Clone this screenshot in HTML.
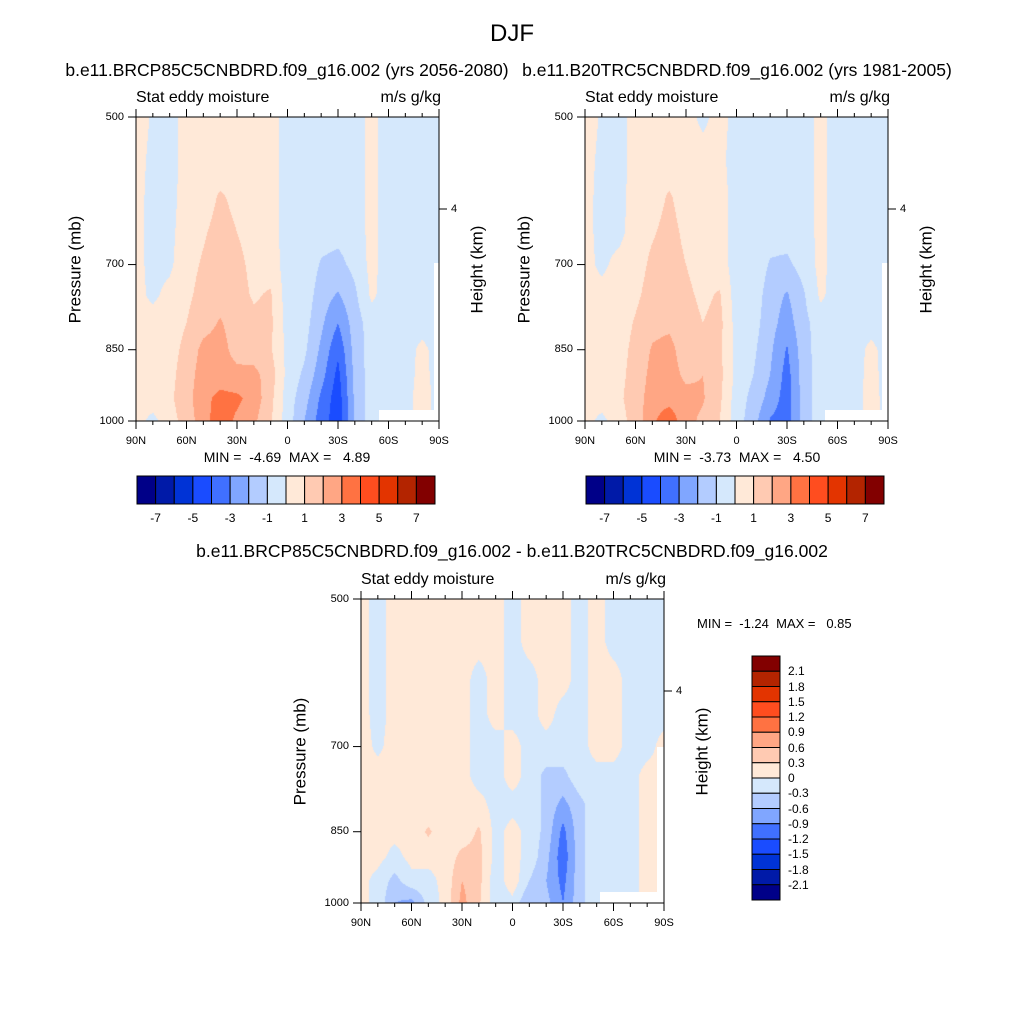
<!DOCTYPE html>
<html><head><meta charset="utf-8"><style>
body{margin:0;background:#fff;}
#root{position:relative;width:1024px;height:1024px;overflow:hidden;font-family:"Liberation Sans",sans-serif;color:#000;}
.t{position:absolute;white-space:pre;line-height:1;}
canvas{position:absolute;}
svg{position:absolute;left:0;top:0;}
</style></head><body>
<div id="root">
<div class="t" style="left:0;width:1024px;text-align:center;top:22px;font-size:24px;">DJF</div>
<div class="t" style="left:-13px;width:600px;text-align:center;top:62px;font-size:17.5px;">b.e11.BRCP85C5CNBDRD.f09_g16.002 (yrs 2056-2080)</div>
<div class="t" style="left:437px;width:600px;text-align:center;top:62px;font-size:17.5px;">b.e11.B20TRC5CNBDRD.f09_g16.002 (yrs 1981-2005)</div>
<div class="t" style="left:112px;width:800px;text-align:center;top:543px;font-size:17.5px;">b.e11.BRCP85C5CNBDRD.f09_g16.002 - b.e11.B20TRC5CNBDRD.f09_g16.002</div>
<div class="t" style="left:697px;top:617px;font-size:13px;">MIN =  -1.24  MAX =   0.85</div>
<svg id="ax" width="1024" height="1024"></svg>
</div>
<script>
const lats=[90,80,70,60,50,40,30,20,10,0,-10,-20,-30,-40,-50,-60,-70,-80,-90];
const levels=[500,550,600,650,700,750,800,850,900,950,1000];
const p1=[
[0.4,-0.1,-0.5,0.5,0.5,0.5,0.5,0.5,0.5,-0.5,-0.5,-0.5,-0.5,-0.5,0.3,-0.5,-0.5,-0.5,-0.5],
[0.3,-0.2,-0.5,0.5,0.5,0.5,0.5,0.5,0.5,-0.5,-0.5,-0.5,-0.5,-0.5,0.3,-0.5,-0.5,-0.5,-0.5],
[0.3,-0.3,-0.4,0.5,0.6,1.1,0.8,0.5,0.5,-0.5,-0.5,-0.5,-0.5,-0.5,0.3,-0.5,-0.5,-0.5,-0.5],
[0.3,-0.3,-0.3,0.6,0.9,1.3,1.0,0.7,0.5,-0.5,-0.3,-0.6,-0.7,-0.5,0.3,-0.5,-0.5,-0.5,-0.5],
[0.3,-0.3,-0.2,0.7,1.1,1.5,1.2,0.8,0.6,-0.5,-0.3,-1.1,-1.3,-0.7,0.3,-0.5,-0.5,-0.5,-0.5],
[0.3,-0.2,0.3,0.8,1.3,1.6,1.3,0.9,1.1,-0.5,-0.4,-1.5,-2.1,-1.2,0.2,-0.5,-0.5,-0.5,-0.5],
[0.3,0.4,0.5,1.0,1.6,2.1,1.5,1.2,1.2,-0.4,-0.6,-1.8,-3.0,-1.5,-0.5,-0.5,-0.5,-0.5,-0.5],
[0.3,0.5,0.6,1.3,2.3,2.4,1.6,1.5,1.1,-0.3,-0.8,-2.2,-3.8,-1.6,-0.5,-0.5,-0.5,0.3,-0.5],
[0.4,0.5,0.7,1.5,2.5,2.5,2.3,2.3,1.5,-0.3,-1.2,-2.6,-4.3,-1.7,-0.5,-0.5,-0.5,0.4,-0.5],
[0.4,0.5,0.8,1.6,2.7,3.3,3.2,2.6,1.3,-0.5,-1.6,-3.2,-4.6,-1.8,-0.5,-0.5,-0.5,0.6,-0.5],
[0.4,-0.3,0.6,1.4,2.6,3.6,2.8,2.2,1.1,-0.5,-2.0,-3.5,-4.6,-1.8,-0.5,-0.5,-0.5,0.6,-0.5]];
const p2=[
[0.4,-0.1,-0.5,0.5,0.5,0.5,0.5,-0.3,0.5,-0.5,-0.5,-0.5,-0.5,-0.5,0.3,-0.5,-0.5,-0.5,-0.5],
[0.3,-0.2,-0.5,0.5,0.5,0.5,0.5,0.5,0.3,-0.5,-0.5,-0.5,-0.5,-0.5,0.3,-0.5,-0.5,-0.5,-0.5],
[0.3,-0.3,-0.4,0.5,0.6,1.1,0.6,0.5,0.5,-0.5,-0.5,-0.5,-0.5,-0.5,0.3,-0.5,-0.5,-0.5,-0.5],
[0.3,-0.3,-0.3,0.5,0.9,1.3,0.8,0.5,0.5,-0.5,-0.4,-0.6,-0.6,-0.5,0.3,-0.5,-0.5,-0.5,-0.5],
[0.3,-0.2,0.3,0.6,1.2,1.4,1.0,0.6,0.5,-0.5,-0.3,-1.1,-1.2,-0.6,0.3,-0.5,-0.5,-0.5,-0.5],
[0.3,0.3,0.4,0.8,1.4,1.5,1.2,0.8,1.1,-0.5,-0.4,-1.5,-2.1,-1.1,0.2,-0.5,-0.5,-0.5,-0.5],
[0.3,0.4,0.5,1.1,1.7,1.8,1.4,1.0,1.3,-0.4,-0.6,-1.6,-2.5,-1.3,-0.5,-0.5,-0.5,-0.5,-0.5],
[0.3,0.5,0.6,1.3,2.1,2.3,1.5,1.2,1.2,-0.3,-0.8,-1.8,-3.1,-1.4,-0.5,-0.5,-0.5,0.3,-0.5],
[0.4,0.5,0.7,1.4,2.3,2.4,1.8,2.0,1.3,-0.3,-1.0,-2.0,-3.4,-1.5,-0.5,-0.5,-0.5,0.4,-0.5],
[0.4,0.5,0.8,1.5,2.5,2.6,2.3,2.1,1.2,-0.5,-1.3,-2.4,-3.5,-1.5,-0.5,-0.5,-0.5,0.5,-0.5],
[0.4,-0.3,0.6,1.4,2.8,3.7,2.3,1.8,1.0,-0.5,-1.6,-3.1,-3.5,-1.5,-0.5,0.3,-0.5,0.5,-0.5]];
const p3=[
[0.1,-0.1,0.1,0.1,0.1,0.1,0.1,0.1,0.1,-0.1,0.1,0.1,0.1,-0.1,0.1,-0.1,-0.1,-0.1,-0.1],
[0.1,-0.1,0.1,0.1,0.1,0.1,0.1,0.1,0.1,-0.1,0.1,0.1,0.1,-0.1,0.1,-0.1,-0.1,-0.1,-0.1],
[0.1,-0.1,0.1,0.1,0.1,0.1,0.1,-0.1,0.1,-0.1,-0.1,0.1,0.1,-0.1,0.1,0.1,-0.1,-0.1,-0.1],
[0.1,-0.1,0.1,0.1,0.1,0.1,0.1,-0.1,0.1,-0.1,-0.1,0.1,-0.1,-0.1,0.1,0.1,-0.1,-0.1,-0.1],
[0.1,-0.05,0.1,0.1,0.1,0.1,0.1,-0.1,-0.1,0.1,-0.1,-0.1,-0.1,-0.1,0.1,0.1,-0.1,-0.1,0.1],
[0.1,0.1,0.1,0.1,0.1,0.1,0.1,-0.1,-0.1,0.1,-0.1,-0.4,-0.4,-0.1,-0.1,-0.1,-0.1,0.1,0.1],
[0.1,0.1,0.1,0.1,0.1,0.1,0.1,0.1,-0.1,-0.1,-0.1,-0.4,-0.7,-0.4,-0.1,-0.1,-0.1,0.1,0.1],
[0.1,0.1,0.1,0.1,0.35,0.1,0.1,0.35,-0.1,0.1,-0.1,-0.4,-1.0,-0.4,-0.1,-0.1,-0.1,0.1,0.1],
[0.1,0.1,-0.1,0.1,0.1,0.1,0.4,0.4,-0.1,0.1,-0.1,-0.5,-1.1,-0.4,-0.1,-0.1,-0.1,0.1,0.1],
[0.1,-0.1,-0.4,-0.1,-0.1,0.1,0.6,0.4,-0.2,0.2,-0.3,-0.6,-1.0,-0.4,-0.1,-0.1,-0.1,0.1,0.1],
[0.1,-0.1,-0.6,-0.7,-0.2,0.1,0.7,0.35,-0.2,-0.1,-0.6,-0.5,-0.9,-0.4,-0.1,-0.1,-0.1,0.1,0.1]];
const palette=['#000088','#001aa8','#0033d6','#1a4cff','#4070ff','#80a6ff','#b3ccff','#d5e8fc','#ffe9d8','#ffcab2','#ffa684','#ff7242','#ff4d1f','#e33400','#b32400','#820000'];
const cbLabelsA=['-7','-5','-3','-1','1','3','5','7'];
const cbLabelsB=['2.1','1.8','1.5','1.2','0.9','0.6','0.3','0','-0.3','-0.6','-0.9','-1.2','-1.5','-1.8','-2.1'];
const xTickLabels=['90N','60N','30N','0','30S','60S','90S'];
const pTicks=[500,700,850,1000];

const root=document.getElementById('root');
const ax=document.getElementById('ax');
const NS='http://www.w3.org/2000/svg';
function txt(name,x,y,s,size,align,rot){
  const d=document.createElement('div');d.className='t';
  
  
  d.textContent=s;d.style.fontSize=size+'px';
  if(rot){d.style.left=(x-100)+'px';d.style.width='200px';d.style.textAlign='center';d.style.top=(y-size/2)+'px';d.style.transform='rotate(-90deg)';}
  else{
    if(align==='c'){d.style.left=(x-150)+'px';d.style.width='300px';d.style.textAlign='center';}
    else if(align==='r'){d.style.left=(x-200)+'px';d.style.width='200px';d.style.textAlign='right';}
    else d.style.left=x+'px';
    d.style.top=(y-size*0.5)+'px';
  }
  root.appendChild(d);return d;
}
function line(name,x1,y1,x2,y2,w){
  const l=document.createElementNS(NS,'line');
  
  
  l.setAttribute('x1',x1);l.setAttribute('y1',y1);l.setAttribute('x2',x2);l.setAttribute('y2',y2);
  l.setAttribute('stroke','#000');l.setAttribute('stroke-width',w||1);ax.appendChild(l);
}
function rect(name,x,y,w,h,fill,stroke){
  const r=document.createElementNS(NS,'rect');
  
  
  r.setAttribute('x',x);r.setAttribute('y',y);r.setAttribute('width',w);r.setAttribute('height',h);
  r.setAttribute('fill',fill);if(stroke){r.setAttribute('stroke',stroke);r.setAttribute('stroke-width',1);}
  ax.appendChild(r);
}
function hex(c){return [parseInt(c.slice(1,3),16),parseInt(c.slice(3,5),16),parseInt(c.slice(5,7),16)];}
const palRGB=palette.map(hex);

function panel(id,data,step,X0,Y0,W,H,wb){
  const yOfP=p=>Y0+(Math.log(p)-Math.log(500))/(Math.log(1000)-Math.log(500))*H;
  const xOfLat=l=>X0+(90-l)/180*W;
  const cv=document.createElement('canvas');
  
  
  cv.width=W;cv.height=H;cv.style.left=X0+'px';cv.style.top=Y0+'px';
  root.insertBefore(cv,ax);
  const ctx=cv.getContext('2d');const img=ctx.createImageData(W,H);
  const lvY=levels.map(yOfP);const ltX=lats.map(xOfLat);
  for(let py=0;py<H;py++){
    const yy=Y0+py+0.5;let r=0;while(r<levels.length-2&&lvY[r+1]<yy)r++;
    let fy=(yy-lvY[r])/(lvY[r+1]-lvY[r]);fy=Math.max(0,Math.min(1,fy));
    for(let px=0;px<W;px++){
      const xx=X0+px+0.5;let c=0;while(c<lats.length-2&&ltX[c+1]<xx)c++;
      let fx=(xx-ltX[c])/(ltX[c+1]-ltX[c]);fx=Math.max(0,Math.min(1,fx));
      const v=data[r][c]*(1-fx)*(1-fy)+data[r][c+1]*fx*(1-fy)+data[r+1][c]*(1-fx)*fy+data[r+1][c+1]*fx*fy;
      let k=Math.floor(v/step)+8;k=Math.max(0,Math.min(15,k));
      const col=palRGB[k];const i=(py*W+px)*4;
      img.data[i]=col[0];img.data[i+1]=col[1];img.data[i+2]=col[2];img.data[i+3]=255;
    }
  }
  ctx.putImageData(img,0,0);
  rect(id+'-missing-box',wb[0],wb[1],X0+W-wb[0],Y0+H-wb[1],'#fff');
  rect(id+'-missing-strip',wb[2],wb[3],X0+W-wb[2],Y0+H-wb[3],'#fff');
  rect(id+'-frame',X0,Y0,W,H,'none','#000');
  for(let l=90;l>=-90;l-=10){
    const x=xOfLat(l);const maj=(l%30===0);
    line(id+'-x-tick-bottom',x,Y0+H,x,Y0+H+(maj?8:4));
    line(id+'-x-tick-top',x,Y0,x,Y0-(maj?8:4));
  }
  xTickLabels.forEach((s,i)=>{
    txt(id+'-x-tick-label',xOfLat(90-i*30),Y0+H+20,s,11,'c');
  });
  pTicks.forEach(p=>{
    const y=yOfP(p);line(id+'-y-tick',X0,y,X0-8,y);
    txt(id+'-y-tick-label',X0-12,y,String(p),11,'r');
  });
  const hy=Y0+92;line(id+'-height-tick',X0+W,hy,X0+W+8,hy);
  txt(id+'-height-tick-label',X0+W+12,hy,'4',11,'l');
  txt(id+'-y-axis-title',X0-61,Y0+H/2,'Pressure (mb)',17,'c',true);
  txt(id+'-right-axis-title',X0+W+38,Y0+152,'Height (km)',17,'c',true);
  txt(id+'-left-subtitle',X0,Y0-19,'Stat eddy moisture',16,'l');
  txt(id+'-units',X0+W+2,Y0-19,'m/s g/kg',16,'r');
}
panel('panel1',p1,1,136,117,303,304,[379,410,434,263]);
panel('panel2',p2,1,585,117,303,304,[825,410,882,263]);
panel('panel3',p3,0.3,361,599,303,304,[600,892,657,747]);
txt('panel1-minmax',287,457,'MIN =  -4.69  MAX =   4.89',14,'c');
txt('panel2-minmax',737,457,'MIN =  -3.73  MAX =   4.50',14,'c');

function hbar(id,X0){
  const w=298/16;
  palette.forEach((c,i)=>rect(id+'-box',X0+i*w,476,w,28,c,'#000'));
  cbLabelsA.forEach((s,i)=>txt(id+'-label',X0+(1+2*i)*w,518,s,12,'c'));
}
hbar('colorbar1',137);hbar('colorbar2',586);
const vh=244/16;
palette.slice().reverse().forEach((c,i)=>rect('colorbar3-box',752,656+i*vh,28,vh,c,'#000'));
cbLabelsB.forEach((s,i)=>txt('colorbar3-label',788,656+(i+1)*vh,s,12,'l'));
</script>
</body></html>
